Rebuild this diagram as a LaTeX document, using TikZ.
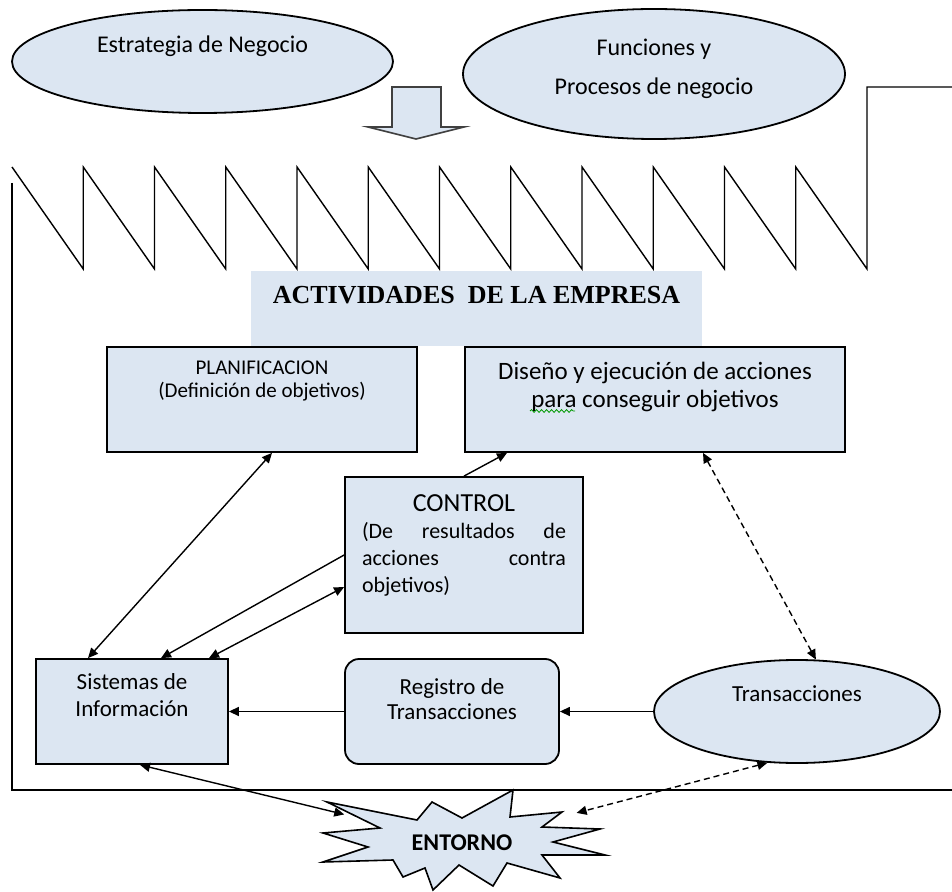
\documentclass[tikz,border=0pt]{standalone}
\usepackage{fontspec}
\setmainfont{Carlito}
\newfontfamily\timesfont{Liberation Serif}
\usetikzlibrary{shapes.geometric,arrows.meta,decorations.pathmorphing}
\definecolor{paleblue}{HTML}{DCE6F2}

\begin{document}
\begin{tikzpicture}[x=0.5pt, y=-0.5pt,
    >={Triangle[length=5pt,width=4.5pt]},
    % node attributes
    every node/.style = {inner sep=0pt, align=center},
    box/.style = {draw, line width=0.9pt, fill=paleblue, rectangle},
    oval/.style = {draw, line width=0.9pt, fill=paleblue, ellipse},
    wall/.style = {line width=0.7pt},
    link/.style = {line width=0.7pt},
    dashlink/.style = {line width=0.7pt, dash pattern=on 3pt off 2pt}]
    \useasboundingbox (0,0) rectangle (952,892);
    % top ovals and big arrow
    \node[oval, minimum width=190.5pt, minimum height=51.5pt,
        label={[anchor=base, yshift=-21.5pt, font=\fontsize{12}{14}\selectfont]north:Estrategia de Negocio}]
        (estr) at (202.5,61.5) {};
    \node[oval, minimum width=191pt, minimum height=65pt,
        label={[anchor=base, yshift=-43pt, font=\fontsize{12}{19.5}\selectfont]north:{Funciones y\\Procesos de negocio}}]
        (func) at (654,74) {};
    \draw[fill=paleblue, draw=black!75, line width=0.8pt] (392,87) -- (441,87) -- (441,127) -- (464,127)
        -- (416,139) -- (368,127) -- (392,127) -- cycle;
    % frame of the company
    \draw[wall] (12,167) \foreach \i in {1,...,11} { -- ({12+71.25*\i},269) -- ({12+71.25*\i},167) }
        -- (867,269) -- (867,87) -- (952,87);
    \draw[wall] (12,183) -- (12,790) -- (952,790);
    \node[fill=paleblue, minimum width=225.5pt, minimum height=37.5pt,
        label={[anchor=base, yshift=-16.5pt, font=\timesfont\bfseries\fontsize{13}{15}\selectfont]north:ACTIVIDADES\ \ DE LA EMPRESA}]
        (act) at (476.5,308.5) {};
    % activities
    \node[box, minimum width=155pt, minimum height=52.5pt,
        label={[anchor=base, yshift=-25.5pt, font=\fontsize{10.5}{11.5}\selectfont]north:{PLANIFICACION\\(Definición de objetivos)}}]
        (plan) at (262,399.5) {};
    \node[box, minimum width=190pt, minimum height=52.5pt,
        label={[anchor=base, yshift=-30.5pt, font=\fontsize{12.5}{14}\selectfont]north:{Diseño y ejecución de acciones\\para conseguir objetivos}}]
        (dis) at (655,399.5) {};
    \draw[green!60!black, line width=0.4pt, decorate, decoration={snake, amplitude=0.7pt, segment length=2.5pt}]
        (530,411) -- (575,411);
    \node[box, minimum width=119pt, minimum height=78pt,
        label={[anchor=base, yshift=-58pt, font=\fontsize{11}{13.5}\selectfont]north:{{\fontsize{13}{13}\selectfont CONTROL}\\
            \makebox[102pt][s]{(De resultados de}\\ \makebox[102pt][s]{acciones contra}\\ \makebox[102pt][l]{objetivos)}}}]
        (ctrl) at (464,555) {};
    \node[box, minimum width=96pt, minimum height=52.5pt,
        label={[anchor=base, yshift=-29pt, font=\fontsize{11.5}{13.5}\selectfont]north:{Sistemas de\\Información}}]
        (sis) at (132,711.5) {};
    \node[box, rounded corners=7pt, minimum width=107pt, minimum height=52.5pt,
        label={[anchor=base, yshift=-30.5pt, font=\fontsize{11.5}{12.5}\selectfont]north:{Registro de\\Transacciones}}]
        (reg) at (452,711.5) {};
    \node[oval, minimum width=143pt, minimum height=51.5pt,
        label={[anchor=base, yshift=-21pt, font=\fontsize{11.5}{13.5}\selectfont]north:Transacciones}]
        (trans) at (797,711.5) {};
    % environment
    \draw[line width=0.8pt, fill=paleblue] (327,802) -- (417,820) -- (432,802) -- (462,818) -- (513,790)
        -- (510,817) -- (562,812) -- (542,827) -- (600,829) -- (553,842) -- (605,855) -- (542,855)
        -- (560,878) -- (507,863) -- (493,886) -- (459,865) -- (433,890) -- (425,868) -- (403,877)
        -- (393,860) -- (323,862) -- (368,847) -- (323,833) -- (380,828) -- cycle;
    \node[ellipse, minimum width=142.5pt, minimum height=50pt, font=\bfseries\fontsize{12}{14}\selectfont]
        (entorno) at (462,843) {ENTORNO};
    % connectors
    \draw[link, <->] ([xshift=-22pt]sis.north) -- ([xshift=5pt]plan.south);
    \draw[link, ->] (ctrl.west) -- ([xshift=14.5pt]sis.north);
    \draw[link, <->] ([xshift=38.5pt]sis.north) -- ([yshift=-16pt]ctrl.west);
    \draw[link, ->] (ctrl.north) -- ([xshift=-74pt]dis.south);
    \draw[dashlink, <->] ([xshift=24pt]dis.south) -- (trans.70);
    \draw[link, ->] (trans.west) -- (reg.east);
    \draw[link, ->] (reg.west) -- (sis.east);
    \draw[link, <->] ([xshift=4pt]sis.south) -- (entorno);
    \draw[dashlink, <->] (trans.240) -- (entorno);
\end{tikzpicture}
\end{document}
